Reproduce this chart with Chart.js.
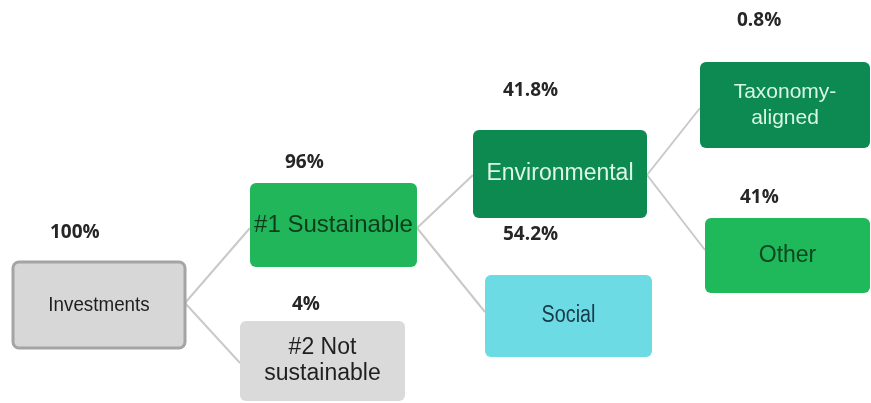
<!DOCTYPE html>
<html>
<head>
<meta charset="utf-8">
<script src="https://cdn.jsdelivr.net/npm/chart.js@4.4.1/dist/chart.umd.min.js"></script>
<style>
  html, body { margin: 0; padding: 0; background: #ffffff; }
  #wrap { width: 871px; height: 403px; }
</style>
</head>
<body>
<div id="wrap"><canvas id="c" width="871" height="403"></canvas></div>
<script>
// ---- data ----
const nodeLabels = ['Investments', '#1 Sustainable', '#2 Not\nsustainable', 'Environmental', 'Social', 'Taxonomy-\naligned', 'Other'];
const nodeShares = [100, 96, 4, 41.8, 54.2, 0.8, 41];
const nodeParents = [-1, 0, 0, 1, 1, 3, 3];
const shareLabels = ['100%', '96%', '4%', '41.8%', '54.2%', '0.8%', '41%'];

// ---- layout (chart units = pixels of the 871x403 frame) ----
const boxes = [
  [13, 262, 185, 348],
  [250, 183, 417, 267],
  [240, 321, 405, 401],
  [473, 130, 647, 218],
  [485, 275, 652, 357],
  [700, 62, 870, 148],
  [705, 218, 870, 293]
];
const shareLabelPos = [[50, 233], [285, 163], [292, 305], [503, 91], [503, 235], [737, 21], [740, 198]];
const parentAnchorY = [303, 228, null, 175, null, null, null];
const childAnchorY = [null, 228, 363, 175, 312, 108, 250];

// ---- styles ----
const boxFill = ['#d7d7d7', '#21b65a', '#dadada', '#0c8a4f', '#6ddbe4', '#0d8a51', '#1fb85b'];
const boxStroke = ['#a4a4a4', null, null, null, null, null, null];
const textColor = ['#1e1e1e', '#0e3b1c', '#1f1f1f', '#dcf6e8', '#173a4a', '#d8f6e6', '#0c471f'];
const textSize = [20, 24, 23, 23, 23, 21, 23];
const textSqueeze = [0.94, 1, 1, 1, 0.86, 1, 1];

const connectorData = [];
nodeParents.forEach((p, i) => {
  if (p < 0) return;
  connectorData.push({
    data: [
      { x: boxes[p][2], y: parentAnchorY[p] },
      { x: boxes[i][0], y: childAnchorY[i] }
    ],
    showLine: true,
    borderColor: '#c9c9c9',
    borderWidth: 2,
    pointRadius: 0
  });
});

const nodePlugin = {
  id: 'nodes',
  afterDatasetsDraw(chart) {
    const ctx = chart.ctx;
    const xs = chart.scales.x, ys = chart.scales.y;
    ctx.save();
    nodeLabels.forEach((label, i) => {
      const b = boxes[i];
      const x0 = xs.getPixelForValue(b[0]), x1 = xs.getPixelForValue(b[2]);
      const y0 = ys.getPixelForValue(b[1]), y1 = ys.getPixelForValue(b[3]);
      ctx.beginPath();
      if (ctx.roundRect) ctx.roundRect(x0, y0, x1 - x0, y1 - y0, 6);
      else ctx.rect(x0, y0, x1 - x0, y1 - y0);
      ctx.fillStyle = boxFill[i];
      ctx.fill();
      if (boxStroke[i]) {
        ctx.lineWidth = 3;
        ctx.strokeStyle = boxStroke[i];
        ctx.stroke();
      }
      // label text
      const lines = label.split('\n');
      const cx = (x0 + x1) / 2, cy = (y0 + y1) / 2;
      const lh = 26;
      ctx.fillStyle = textColor[i];
      ctx.font = textSize[i] + 'px "Liberation Sans", Arial, sans-serif';
      ctx.textAlign = 'center';
      ctx.textBaseline = 'middle';
      lines.forEach((ln, k) => {
        const ly = cy + (k - (lines.length - 1) / 2) * lh;
        ctx.save();
        ctx.translate(cx, ly);
        ctx.scale(textSqueeze[i], 1);
        ctx.fillText(ln, 0, 0);
        ctx.restore();
      });
      // share label
      const sp = shareLabelPos[i];
      ctx.fillStyle = '#262626';
      ctx.font = '700 19px "Open Sans", sans-serif';
      ctx.textAlign = 'left';
      ctx.textBaseline = 'middle';
      ctx.fillText(shareLabels[i], xs.getPixelForValue(sp[0]), ys.getPixelForValue(sp[1]));
    });
    ctx.restore();
  }
};

new Chart(document.getElementById('c'), {
  type: 'scatter',
  data: { datasets: connectorData },
  options: {
    responsive: false,
    animation: false,
    layout: { padding: 0 },
    plugins: { legend: { display: false }, tooltip: { enabled: false } },
    scales: {
      x: { type: 'linear', min: 0, max: 871, display: false },
      y: { type: 'linear', min: 0, max: 403, reverse: true, display: false }
    }
  },
  plugins: [nodePlugin]
});
</script>
</body>
</html>
